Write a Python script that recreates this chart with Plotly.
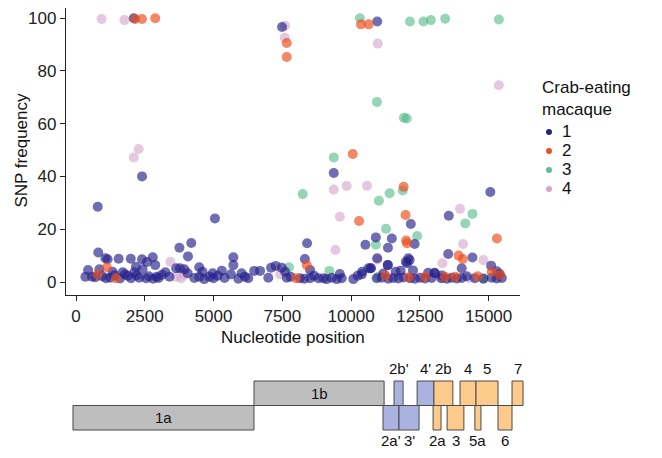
import plotly.graph_objects as go

# ---------------- data ----------------
s1_pos = [2100, 7490, 10950, 2400, 790, 5050, 9370, 15060, 13550, 12170,
          10900, 10520, 11480, 11340, 12310, 8400, 13530, 14410, 15090, 12130,
          12040, 10950, 10710, 11340, 8320, 8510, 10400, 9590, 11800, 13030,
          810, 1070, 1150, 1550, 1990, 2400, 2790, 2880, 2580, 2180,
          3760, 4190, 4070, 3780, 3940, 4480, 4600, 4970, 5150, 440,
          340, 580, 850, 1330, 1700, 1880, 2120, 2300, 2550, 2420,
          2930, 3250, 3120, 1090, 2000, 3640, 4060, 4480, 4660, 4850, 5000,
          700, 950, 1250, 1400, 1600, 1780, 2200, 2650, 2800, 3000, 3400, 4300,
          5720, 5720, 5300, 5630, 6020, 6140, 6260, 6480, 6690, 6990,
          7090, 7260, 7480, 7600, 7660, 8140, 8510, 8810, 8990, 9110,
          9480, 9660, 10080, 10240, 10390, 10630, 5400, 5900, 7800, 8300, 8650, 9300,
          12080, 11990, 11330, 10720, 14020, 13050,
          10930, 11110, 11350, 11530, 11720, 11900, 12140, 12320, 12510, 12690,
          12930, 13290, 13480, 13660, 13840, 14020, 14500, 14810, 15110, 15290, 15480,
          11170, 12800, 13300, 14200, 15400, 11620, 12250, 15300]
s1_val = [99.9, 96.6, 98.7, 40.0, 28.5, 24.1, 41.3, 34.1, 25.1, 22.0,
          16.9, 14.1, 16.5, 13.0, 14.4, 14.7, 10.6, 9.3, 6.2, 8.3,
          7.1, 9.0, 5.2, 6.4, 8.7, 4.5, 3.9, 3.0, 4.3, 3.5,
          11.2, 9.0, 8.6, 8.8, 8.8, 8.6, 9.4, 6.4, 7.6, 5.8,
          13.0, 14.8, 9.7, 5.2, 4.8, 5.6, 3.9, 3.3, 2.4, 4.5,
          2.0, 2.0, 4.8, 3.9, 3.7, 2.4, 3.7, 1.6, 1.4, 4.8,
          2.0, 3.7, 2.7, 1.4, 1.4, 5.2, 3.3, 2.0, 1.1, 2.0, 1.4,
          1.8, 2.2, 1.6, 2.6, 1.3, 2.9, 2.5, 2.2, 1.2, 1.5, 2.0, 1.5,
          9.4, 6.4, 4.3, 2.9, 3.3, 2.0, 1.4, 4.2, 4.2, 1.6,
          5.4, 6.1, 5.4, 3.9, 1.6, 1.4, 1.4, 1.4, 1.4, 1.1,
          1.1, 1.4, 1.1, 2.4, 2.9, 5.2, 1.5, 1.2, 2.0, 1.2, 2.4, 1.6,
          9.0, 7.7, 6.4, 5.2, 5.2, 3.3,
          1.4, 1.6, 1.2, 1.5, 1.3, 1.7, 1.4, 1.2, 1.6, 1.3,
          1.5, 1.4, 1.2, 1.6, 1.3, 1.5, 1.4, 1.2, 1.6, 1.3, 1.5,
          3.2, 3.5, 2.5, 2.2, 3.0, 3.9, 4.4, 4.1]

s2_pos = [2150, 2400, 2880, 7660, 7660, 10360, 10640, 10060, 11910, 10290,
          11980, 15300, 12000, 12030, 13910, 14060, 8390, 1120, 790, 1450,
          8000, 12690, 13410, 13780, 15110, 15410, 11250, 12100, 14600]
s2_val = [99.6, 99.6, 99.9, 90.5, 85.2, 97.6, 97.6, 48.5, 36.1, 23.1,
          25.4, 16.5, 15.7, 14.7, 10.0, 8.7, 6.4, 5.6, 2.9, 1.4,
          1.4, 2.0, 2.0, 2.0, 3.9, 2.7, 2.5, 1.8, 2.2]

s3_pos = [10320, 12140, 12630, 12900, 13420, 15370, 10940, 11920, 12020, 9370,
          8240, 11010, 11400, 11880, 14410, 14150, 11270, 12400, 10900, 7740,
          9210, 10990, 14810]
s3_val = [99.9, 98.7, 98.7, 99.2, 99.7, 99.4, 68.2, 62.2, 61.9, 47.2,
          33.3, 30.8, 33.6, 34.7, 25.8, 22.2, 20.2, 17.4, 14.1, 5.6,
          4.2, 2.0, 1.4]

s4_pos = [930, 1760, 7600, 7590, 10970, 15370, 2280, 2100, 9370, 9840,
          10580, 9590, 13960, 14070, 9430, 14810, 13320, 10950, 3430, 3640,
          3820, 3940, 7420, 13250, 14300]
s4_val = [99.6, 99.2, 97.1, 92.5, 90.3, 74.5, 50.4, 47.2, 35.0, 36.4,
          36.5, 24.7, 27.7, 14.4, 12.1, 8.3, 7.1, 8.5, 7.7, 2.0,
          1.4, 2.7, 2.9, 1.5, 1.5]

x_ticks = [0, 2500, 5000, 7500, 10000, 12500, 15000]
x_tick_labels = ["0", "2500", "5000", "7500", "10000", "12500", "15000"]
y_ticks = [0, 20, 40, 60, 80, 100]
y_tick_labels = ["0", "20", "40", "60", "80", "100"]

legend_title = "Crab-eating<br>macaque"
legend_labels = ["1", "2", "3", "4"]

# genome ORFs: name, start, end, row (1 = upper, 0 = lower), group
orf_names = ["1a", "1b", "2b'", "4'", "2b", "4", "5", "7", "2a'", "3'", "2a", "3", "5a", "6"]
orf_start = [-110, 6470, 11560, 12400, 13010, 13960, 14540, 15850, 11160, 11740, 12980, 13490, 14500, 15340]
orf_end   = [6470, 11200, 11890, 13010, 13700, 14540, 15340, 16250, 11740, 12470, 13270, 14100, 14720, 15850]
orf_row   = [0, 1, 1, 1, 1, 1, 1, 1, 0, 0, 0, 0, 0, 0]
orf_group = ["rep", "rep", "blue", "blue", "orange", "orange", "orange", "orange",
             "blue", "blue", "orange", "orange", "orange", "orange"]

# ---------------- styles ----------------
point_colors = {"1": "rgba(38,34,138,0.66)", "2": "rgba(238,78,30,0.68)",
                "3": "rgba(82,185,135,0.6)", "4": "rgba(212,163,204,0.6)"}
legend_colors = {"1": "#27257F", "2": "#E8501F", "3": "#5DBF8C", "4": "#D6A5CE"}
fills = {"rep": "#BEBEBE", "blue": "#AAB3DF", "orange": "#FCCA8A"}

# The page body has an 8px margin, so the figure sits at (8, 8) in the window.
OFF = 8
FW, FH = 662 - 2 * OFF, 458 - 2 * OFF


def fx(px):
    return min(1.0, max(0.0, (px - OFF) / FW))


def fy(py):
    return min(1.0, max(0.0, 1 - (py - OFF) / FH))


px_per_nt = 0.02751
x0_px = 76
px_per_pct = 2.64
y0_px = 282


def nt(px):
    return (px - x0_px) / px_per_nt


def pct(py):
    return (y0_px - py) / px_per_pct


PLOT_TOP = 8
PLOT_BOT = 295

fig = go.Figure()

draw_order = [("4", s4_pos, s4_val), ("3", s3_pos, s3_val), ("1", s1_pos, s1_val), ("2", s2_pos, s2_val)]
for name, xs, ys in draw_order:
    fig.add_trace(go.Scatter(x=xs, y=ys, mode="markers", name=name, showlegend=False,
                             marker=dict(size=10, color=point_colors[name], line=dict(width=0)),
                             xaxis="x", yaxis="y", cliponaxis=False, hoverinfo="x+y+name"))

# legend drawn on its own hidden axes
fig.add_trace(go.Scatter(x=[0] * len(legend_labels), y=list(range(len(legend_labels))),
                         mode="markers", showlegend=False, hoverinfo="skip",
                         marker=dict(size=6, color=[legend_colors[l] for l in legend_labels]),
                         xaxis="x3", yaxis="y3"))

shapes = []
annotations = []
for nm, s, e, r, g in zip(orf_names, orf_start, orf_end, orf_row, orf_group):
    shapes.append(dict(type="rect", xref="x2", yref="y2", x0=s, x1=e, y0=r, y1=r + 1,
                       fillcolor=fills[g], line=dict(color="#4a4a4a", width=1), layer="above"))
    cx = (s + e) / 2
    if g == "rep":
        annotations.append(dict(x=cx, y=r + 0.5, xref="x2", yref="y2", text=nm, showarrow=False,
                                font=dict(size=15, color="#111"), xanchor="center", yanchor="middle"))
    elif r == 1:
        annotations.append(dict(x=cx, y=2, xref="x2", yref="y2", text=nm, showarrow=False,
                                font=dict(size=15, color="#111"), xanchor="center", yanchor="bottom", yshift=2))
    else:
        annotations.append(dict(x=cx, y=0, xref="x2", yref="y2", text=nm, showarrow=False,
                                font=dict(size=15, color="#111"), xanchor="center", yanchor="top", yshift=0))

for i, lab in enumerate(legend_labels):
    annotations.append(dict(x=0, y=i, xref="x3", yref="y3", text=lab, showarrow=False,
                            xanchor="left", yanchor="middle", xshift=11,
                            font=dict(size=17, color="#111")))
annotations.append(dict(x=0, y=-1.76, xref="x3", yref="y3", text=legend_title, showarrow=False,
                        xanchor="left", yanchor="middle", xshift=-9, align="left",
                        font=dict(size=17, color="#111")))

# axis titles
annotations.append(dict(x=fx((66 + 520) / 2), y=fy(337), xref="paper", yref="paper",
                        text="Nucleotide position", showarrow=False,
                        font=dict(size=17, color="#111"), xanchor="center", yanchor="middle"))
annotations.append(dict(x=fx(9), y=fy(150), xref="paper", yref="paper",
                        text="SNP frequency", showarrow=False, textangle=-90,
                        font=dict(size=17, color="#111"), xanchor="left", yanchor="middle"))

axis_common = dict(showline=True, linecolor="#222", linewidth=1.3, ticks="outside", ticklen=5,
                   tickwidth=1.3, tickcolor="#222", showgrid=False, zeroline=False,
                   tickfont=dict(size=17, color="#222"), automargin=False)

fig.update_layout(
    width=FW, height=FH,
    margin=dict(l=0, r=0, t=0, b=0),
    paper_bgcolor="white", plot_bgcolor="white",
    font=dict(family="Liberation Sans, Arial, sans-serif", color="#111"),
    showlegend=False,
    xaxis=dict(domain=[fx(66), fx(520)], range=[nt(66), nt(520)], tickvals=x_ticks,
               ticktext=x_tick_labels, anchor="y", **axis_common),
    yaxis=dict(domain=[fy(PLOT_BOT), fy(PLOT_TOP)], range=[pct(PLOT_BOT), pct(PLOT_TOP)],
               tickvals=y_ticks, ticktext=y_tick_labels, anchor="x", **axis_common),
    xaxis2=dict(domain=[fx(66), fx(540)], range=[nt(66), nt(540)], visible=False, anchor="y2"),
    yaxis2=dict(domain=[fy(448), fy(355)], range=[-18 / 24.5, 75 / 24.5], visible=False, anchor="x2"),
    xaxis3=dict(domain=[fx(530), fx(650)], range=[-19, 101], visible=False, anchor="y3"),
    yaxis3=dict(domain=[fy(210), fy(70)], range=[(210 - 132) / 19, (70 - 132) / 19],
                visible=False, anchor="x3"),
    shapes=shapes,
    annotations=annotations,
)

fig.write_html("out.html")
